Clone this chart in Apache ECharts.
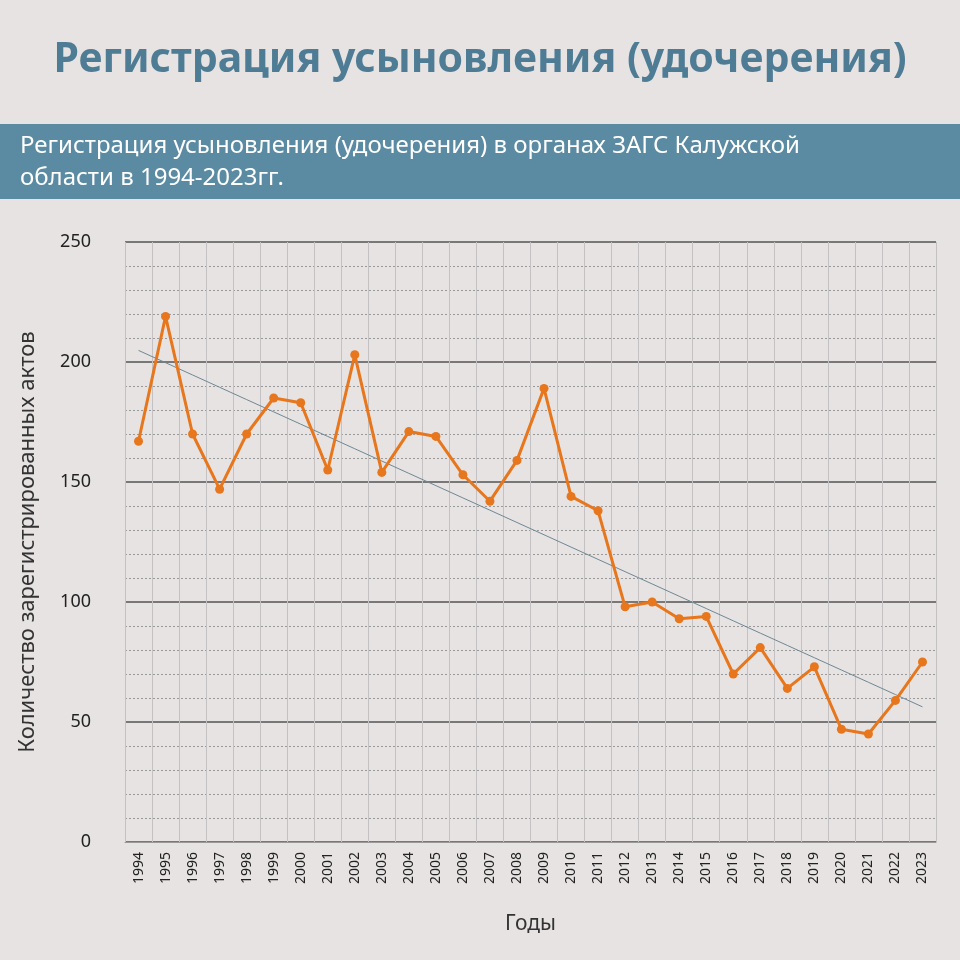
<!DOCTYPE html>
<html><head><meta charset="utf-8">
<script src="https://cdn.jsdelivr.net/npm/echarts@6/dist/echarts.min.js"></script>
<style>body{margin:0;background:#e6e3e2}#c{width:960px;height:960px}</style>
</head><body><div id="c"></div>
<script>
var years = ['1994','1995','1996','1997','1998','1999','2000','2001','2002','2003','2004','2005','2006','2007','2008','2009','2010','2011','2012','2013','2014','2015','2016','2017','2018','2019','2020','2021','2022','2023'];
var acts = [167,219,170,147,170,185,183,155,203,154,171,169,153,142,159,189,144,138,98,100,93,94,70,81,64,73,47,45,59,75];
var yTicks = [0,50,100,150,200,250];

// линейный тренд (МНК)
var n = acts.length, sx = 0, sy = 0, sxy = 0, sxx = 0;
acts.forEach(function (v, i) { sx += i; sy += v; sxy += i * v; sxx += i * i; });
var k = (n * sxy - sx * sy) / (n * sxx - sx * sx), b = (sy - k * sx) / n;
var trend = acts.map(function (v, i) { return +(b + k * i).toFixed(2); });

var myChart = echarts.init(document.getElementById('c'));
var font = '"Noto Sans", sans-serif';
myChart.setOption({
  backgroundColor: '#e6e3e2',
  textStyle: { fontFamily: font },
  graphic: [
    { type: 'text', left: 'center', top: 40, style: { text: 'Регистрация усыновления (удочерения)', font: 'bold 41px "Noto Sans"', fill: '#4f7c95' } },
    { type: 'rect', left: 0, top: 124, shape: { width: 960, height: 75 }, style: { fill: '#5a8ba2' } },
    { type: 'text', left: 20, top: 130, style: { text: 'Регистрация усыновления (удочерения) в органах ЗАГС Калужской\nобласти в 1994-2023гг.', font: '24px "Noto Sans"', fill: '#ffffff', lineHeight: 32 } }
  ],
  grid: { left: 125, right: 24, top: 242, bottom: 118 },
  xAxis: {
    type: 'category', data: years, boundaryGap: true,
    name: 'Годы', nameLocation: 'middle', nameGap: 72,
    nameTextStyle: { fontSize: 21, color: '#333' },
    axisLine: { lineStyle: { color: '#999' } }, axisTick: { show: false },
    axisLabel: { rotate: 90, fontSize: 14, color: '#222', margin: 10 },
    splitLine: { show: true, interval: 0, lineStyle: { color: '#c3c1c1', width: 1 } }
  },
  yAxis: {
    type: 'value', min: yTicks[0], max: yTicks[yTicks.length - 1], interval: 50,
    name: 'Количество зарегистрированных актов', nameLocation: 'middle', nameGap: 86,
    nameTextStyle: { fontSize: 22, color: '#333' },
    axisLabel: { fontSize: 18, color: '#222', margin: 34 },
    axisLine: { show: false }, axisTick: { show: false },
    splitLine: { lineStyle: { color: '#555', width: 1.5 } },
    minorTick: { show: false, splitNumber: 5 },
    minorSplitLine: { show: true, lineStyle: { color: '#999', type: [2, 2], width: 1 } }
  },
  series: [
    { type: 'line', data: trend, symbol: 'none', lineStyle: { color: '#6e8894', width: 1 }, silent: true, z: 3 },
    { type: 'line', data: acts, symbol: 'circle', symbolSize: 9,
      itemStyle: { color: '#e7761c' }, lineStyle: { color: '#e7761c', width: 3 }, z: 4 }
  ]
});
</script></body></html>
